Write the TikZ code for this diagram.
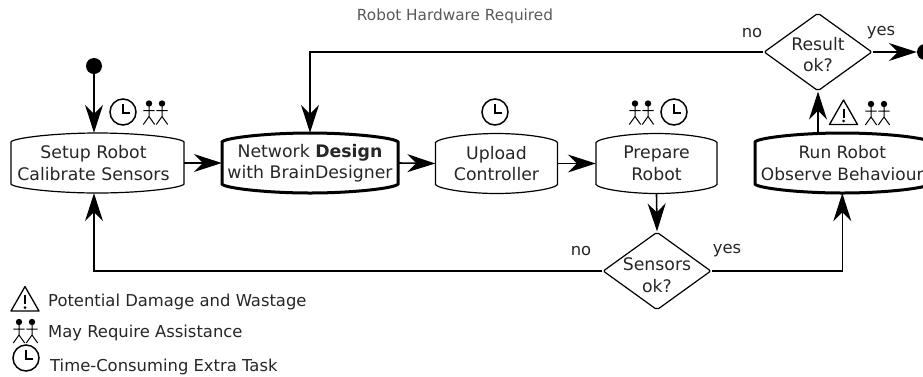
\documentclass[tikz,border=0pt]{standalone}
\usepackage{fontspec}
\setmainfont{DejaVu Sans}
\usetikzlibrary{arrows.meta,calc,shapes.geometric}
\tikzset{
  x=1pt,y=-1pt,
  thinbox/.style={line width=1.2pt},
  thickbox/.style={line width=3pt},
  boxtext/.style={align=center,font=\fontsize{17.3}{21.5}\selectfont,text=black!85,inner sep=0pt},
  decision/.style={diamond,draw,line width=1.2pt,rounded corners=2pt,aspect=1.385,inner sep=0pt,minimum width=108pt,minimum height=78pt},
  flow/.style={line width=1.6pt,-{Stealth[length=28pt,width=18pt,inset=9pt]}},
  dot/.style={circle,fill=black,inner sep=0pt,minimum size=16pt},
  lbl/.style={font=\fontsize{16.4}{20}\selectfont,text=black!85,inner sep=0pt},
  legend/.style={lbl,anchor=west},
  clockicon/.pic={
    \draw[line width=1.5pt] (0,0) circle (13);
    \draw[line width=1.8pt] (0,-8) -- (0,1) -- (7,1);
  },
  peopleicon/.pic={
    \foreach \px in {-6.5,6.5}{
      \fill (\px,-9) circle (3.2);
      \draw[line width=1pt] (\px,-9) -- (\px,4) (\px-5.7,12) -- (\px,4) -- (\px+5.7,12) (\px-5.7,-2) -- (\px+5.7,-2);
    }
  },
  warnicon/.pic={
    \draw[line width=1.3pt,line join=round] (0,-12.5) -- (14,12) -- (-14,12) -- cycle;
    \draw[line width=2pt] (0,-4) -- (0,5);
    \fill (0,8.5) circle (1.5);
  }
}
\newcommand{\flowbox}[7]{% name, cx, cy, halfwidth, style, text, halfheight
  \draw[#5] (#2-#4,#3-21) .. controls (#2-#4+2,#3-25) and (#2-#4*0.5,#3-#7) .. (#2,#3-#7)
    .. controls (#2+#4*0.5,#3-#7) and (#2+#4-2,#3-25) .. (#2+#4,#3-21)
    -- (#2+#4,#3+21) .. controls (#2+#4-2,#3+25) and (#2+#4*0.5,#3+#7) .. (#2,#3+#7)
    .. controls (#2-#4*0.5,#3+#7) and (#2-#4+2,#3+25) .. (#2-#4,#3+21) -- cycle;
  \node[boxtext,minimum width=2*#4*1pt,minimum height=2*#7*1pt] (#1) at (#2,#3) {#6};
}
\begin{document}
\begin{tikzpicture}
\useasboundingbox (0,0) rectangle (923,376);
\clip (0,0) rectangle (923,376);
\flowbox{setup}{97.5}{163}{86.5}{thinbox}{}{30}
\node[boxtext] (setuptext) at (93.5,163) {Setup Robot\\Calibrate Sensors};
\flowbox{design}{310}{163}{88}{thickbox}{Network \textbf{Design}\\with BrainDesigner}{30}
\flowbox{upload}{496.5}{163.5}{61}{thinbox}{Upload\\Controller}{30}
\flowbox{prepare}{656.5}{163.5}{60.5}{thinbox}{Prepare\\Robot}{30}
\flowbox{run}{842.3}{163}{87.3}{thickbox}{\fontsize{17}{21.5}\selectfont Run Robot\\\fontsize{17}{21.5}\selectfont Observe Behaviour}{30}
\node[decision] (result) at (818,52) {};
\node[boxtext] (resulttext) at (818,54.5) {Result\\ok?};
\node[decision] (sensors) at (657,271) {};
\node[boxtext] (sensorstext) at (657,275) {Sensors\\ok?};
\node[dot] (start) at (94,66) {};
\node[dot] (stop) at (925,52) {};
\draw[flow] (start) -- (start |- setup.north);
\draw[flow] (setup.east) -- (design.west);
\draw[flow] (design.east) -- (upload.west);
\draw[flow] (upload.east) -- (prepare.west);
\draw[flow] (prepare.south) -- (sensors.north);
\draw[flow] (sensors.west) -| (start |- setup.south);
\draw[flow] (sensors.east) -| (run.south);
\draw[flow] (result.south |- run.north) -- (result.south);
\draw[flow] (result.west) -| (design.north);
\draw[flow] (result.east) -- (stop.west);
\node[lbl,font=\fontsize{15.3}{20}\selectfont,text=black!65] (hw) at (455,16) {Robot Hardware Required};
\node[lbl] (no1) at (752,33) {no};
\node[lbl] (yes1) at (881,33) {yes};
\node[lbl] (no2) at (581,251) {no};
\node[lbl] (yes2) at (727,251) {yes};
\pic at (123,112) {clockicon};
\pic at (155.5,112.5) {peopleicon};
\pic at (495,112) {clockicon};
\pic at (641.5,112.5) {peopleicon};
\pic at (674,112) {clockicon};
\pic at (843.5,112.5) {warnicon};
\pic at (877.5,113) {peopleicon};
\pic at (25,299) {warnicon};
\pic at (25.5,331) {peopleicon};
\pic at (26,358) {clockicon};
\node[legend] (l1) at (48,302) {Potential Damage and Wastage};
\node[legend] (l2) at (48,333) {May Require Assistance};
\node[legend] (l3) at (50,367) {Time-Consuming Extra Task};
\end{tikzpicture}
\end{document}
